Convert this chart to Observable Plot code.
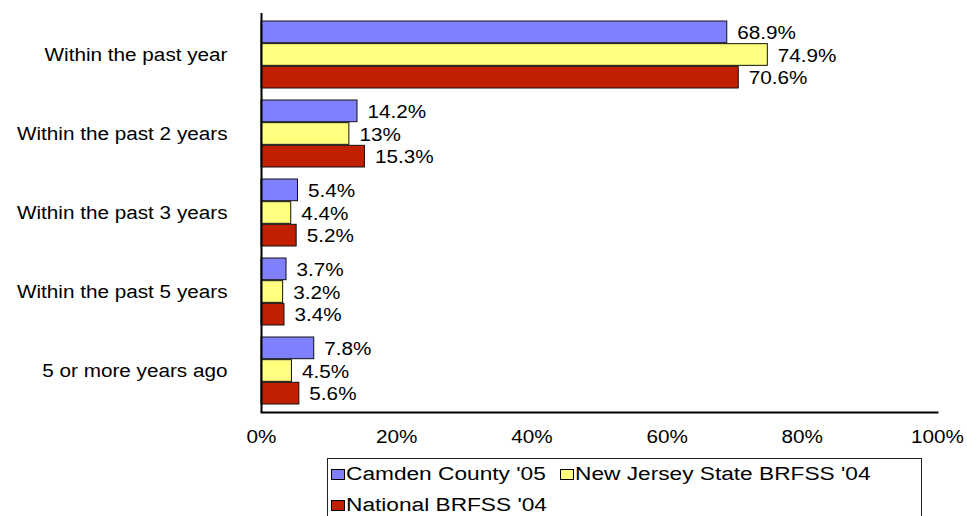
<!DOCTYPE html>
<html>
<head>
<meta charset="utf-8">
<script src="https://cdn.jsdelivr.net/npm/d3@7"></script>
<script src="https://cdn.jsdelivr.net/npm/@observablehq/plot@0.6"></script>
<style>
  html, body { margin: 0; padding: 0; background: #fff; }
  body { width: 967px; height: 516px; overflow: hidden; position: relative; font-family: "Liberation Sans", Arial, sans-serif; color: #000; }
  #chart { position: absolute; left: 0; top: 0; }
  #legend { position: absolute; left: 327px; top: 458px; width: 595px; height: 80px; border: 1px solid #222; box-sizing: border-box; display: flex; flex-wrap: wrap; column-gap: 14px; padding-left: 3px; align-content: flex-start; }
  .item { display: flex; align-items: center; height: 31px; }
  .sw { width: 14px; height: 11px; border: 1px solid #000; box-sizing: border-box; margin-right: 1px; }
  .lab { display: inline-block; font-size: 18px; white-space: nowrap; }
  .lab span { display: inline-block; transform-origin: left center; }
</style>
</head>
<body>
<div id="chart"></div>
<div id="legend"></div>
<script>
const categories = ["Within the past year", "Within the past 2 years", "Within the past 3 years", "Within the past 5 years", "5 or more years ago"];
const seriesNames = ["Camden County '05", "New Jersey State BRFSS '04", "National BRFSS '04"];
const seriesColors = ["#8080FF", "#FFFF80", "#C02000"];
const camden = [68.9, 14.2, 5.4, 3.7, 7.8];
const newJersey = [74.9, 13, 4.4, 3.2, 4.5];
const national = [70.6, 15.3, 5.2, 3.4, 5.6];
const xTicks = [0, 20, 40, 60, 80, 100];

const seriesValues = [camden, newJersey, national];
const S = 1.15; // horizontal text stretch

const W = 967, H = 452;
const mTop = 13, mBottom = 40, mLeft = 261, mRight = 30;
const padIn = 0.15, padOut = 0.07;
const bw = d3.scaleBand().domain(categories).range([mTop, H - mBottom]).paddingInner(padIn).paddingOuter(padOut).bandwidth();
const sub = bw / 3;

const marks = [];
seriesValues.forEach((vals, i) => {
  const data = categories.map((c, j) => ({cat: c, value: vals[j]}));
  marks.push(Plot.barX(data, {
    x: "value", y: "cat",
    fill: seriesColors[i], stroke: "#111", strokeWidth: 1,
    insetTop: i * sub, insetBottom: (2 - i) * sub
  }));
  marks.push(Plot.text(data, {
    x: "value", y: "cat", text: d => d.value + "%",
    textAnchor: "start", dx: 10, dy: (i - 1) * sub + 1,
    fill: "#000", fontSize: 18
  }));
});

const plot = Plot.plot({
  width: W, height: H,
  marginTop: mTop, marginBottom: mBottom, marginLeft: mLeft, marginRight: mRight,
  style: {fontFamily: "'Liberation Sans', Arial, sans-serif", fontSize: "18px", color: "#000", background: "#fff"},
  x: {domain: [0, 100], ticks: xTicks, tickFormat: d => d + "%", label: null},
  y: {domain: categories, paddingInner: padIn, paddingOuter: padOut, label: null},
  marks: [
    ...marks,
    Plot.axisX({ticks: xTicks, tickFormat: d => d + "%", tickSize: 0, tickPadding: 18, label: null, fontSize: 18}),
    Plot.axisY({tickSize: 0, tickPadding: 34, label: null, fontSize: 18}),
    Plot.ruleX([0], {stroke: "#000", strokeWidth: 2}),
    Plot.frame({anchor: "bottom", stroke: "#000", strokeWidth: 2})
  ]
});
document.getElementById("chart").appendChild(plot);

plot.querySelectorAll("text").forEach(t => {
  const w = t.getComputedTextLength();
  if (w > 0) {
    t.setAttribute("textLength", w * S);
    t.setAttribute("lengthAdjust", "spacingAndGlyphs");
  }
});

// legend
const LS = 1.26;
const legend = document.getElementById("legend");
seriesNames.forEach((name, i) => {
  const item = document.createElement("div");
  item.className = "item";
  const sw = document.createElement("div");
  sw.className = "sw";
  sw.style.background = seriesColors[i];
  const lab = document.createElement("div");
  lab.className = "lab";
  const inner = document.createElement("span");
  inner.textContent = name;
  lab.appendChild(inner);
  item.appendChild(sw);
  item.appendChild(lab);
  legend.appendChild(item);
  const w = inner.getBoundingClientRect().width;
  inner.style.transform = `scaleX(${LS})`;
  lab.style.width = (w * LS) + "px";
});
</script>
</body>
</html>
